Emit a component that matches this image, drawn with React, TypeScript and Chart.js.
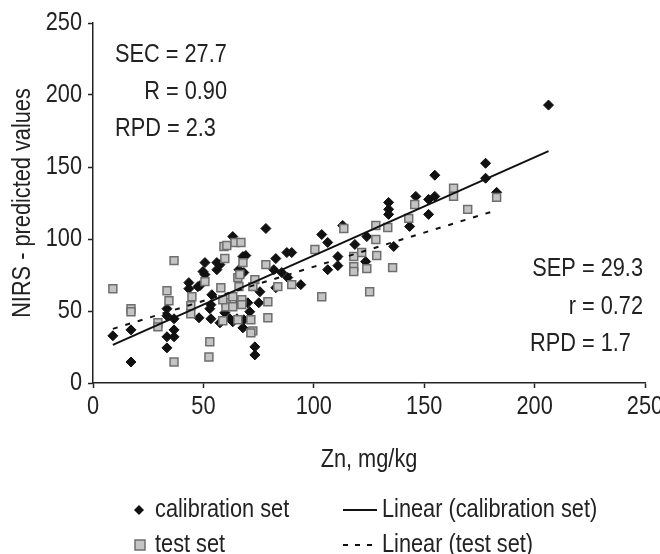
import React, { useEffect, useRef } from "react";
import { Chart, registerables } from "chart.js";

Chart.register(...registerables);

const FONT = "'Liberation Sans', Arial, sans-serif";
const FS = 25;
const SX = 0.87; // horizontal condensing of the typeface
const INK = "#222222";

const xTicks = [0, 50, 100, 150, 200, 250];
const yTicks = [0, 50, 100, 150, 200, 250];

const xTitle = "Zn, mg/kg";
const yTitle = "NIRS - predicted values";

const legendLabels = ["calibration set", "test set", "Linear (calibration set)", "Linear (test set)"];
const statsCalibration = ["SEC = 27.7", "R = 0.90", "RPD = 2.3"];
const statsTest = ["SEP = 29.3", "r = 0.72", "RPD = 1.7"];

// Zn (mg/kg) vs NIRS predicted, calibration set
const calibrationSet: [number, number][] = [
  [9.0, 32.8], [17.2, 36.9], [17.2, 14.6], [33.5, 51.6], [33.5, 46.7], [36.7, 44.6],
  [36.7, 36.9], [33.5, 32.1], [36.7, 32.1], [33.5, 24.4], [43.4, 69.7], [43.4, 65.5],
  [47.5, 66.9], [48.0, 45.3], [50.7, 83.6], [49.8, 77.4], [50.7, 75.3], [53.8, 61.3],
  [53.4, 54.4], [52.9, 51.6], [53.4, 44.6], [56.1, 83.6], [56.1, 78.7], [57.5, 82.2],
  [63.3, 101.7], [59.7, 48.8], [62.0, 44.6], [63.3, 42.5], [65.2, 44.6], [66.1, 78.7],
  [67.9, 87.8], [69.2, 88.5], [68.3, 76.7], [67.9, 38.3], [70.1, 55.7], [71.0, 49.5],
  [73.3, 25.1], [73.3, 19.5], [75.1, 55.7], [75.6, 63.4], [78.3, 107.3], [68.3, 43.9],
  [82.8, 86.4], [82.8, 66.2], [81.9, 78.7], [85.5, 76.7], [87.8, 90.6], [90.0, 90.6],
  [88.2, 73.2], [94.1, 68.3], [103.6, 103.1], [106.3, 97.6], [110.9, 87.8], [110.9, 81.5],
  [106.3, 78.7], [118.6, 96.2], [124.0, 101.7], [123.5, 84.3], [113.1, 109.4], [133.9, 125.4],
  [133.9, 120.6], [133.9, 117.1], [136.2, 94.8], [143.4, 108.7], [146.2, 129.6], [152.0, 127.5],
  [154.8, 129.6], [154.8, 144.3], [152.0, 117.1], [177.8, 152.6], [177.8, 142.2], [182.8, 132.4],
  [206.3, 193.0], [57.5, 41.8], [66.5, 55.7], [48.4, 67.6],
];

// test set
const testSet: [number, number][] = [
  [9.0, 65.5], [17.2, 51.6], [17.2, 49.5], [36.7, 85.0], [33.5, 64.1], [34.4, 57.1],
  [36.7, 14.6], [29.4, 41.8], [29.4, 39.0], [44.8, 59.9], [44.3, 53.7], [44.3, 48.1],
  [50.7, 70.4], [57.9, 66.2], [52.9, 28.6], [52.5, 18.1], [59.3, 94.8], [60.6, 95.5],
  [59.7, 86.4], [64.3, 97.6], [67.0, 97.6], [67.9, 83.6], [65.6, 73.2], [66.5, 75.3],
  [60.2, 55.7], [60.2, 53.0], [63.3, 59.9], [67.4, 57.8], [67.4, 54.4], [65.6, 43.9],
  [58.8, 43.2], [71.5, 43.9], [72.4, 36.2], [71.5, 34.8], [78.3, 82.2], [66.1, 66.9],
  [73.3, 71.8], [72.4, 66.9], [79.2, 56.4], [79.2, 45.3], [83.7, 66.9], [90.0, 68.3],
  [100.5, 92.7], [113.6, 107.3], [118.1, 87.8], [121.7, 90.6], [118.1, 80.8], [118.1, 77.4],
  [124.0, 79.4], [103.6, 59.9], [125.3, 63.4], [128.1, 109.4], [128.1, 99.7], [128.5, 88.5],
  [133.5, 108.0], [135.7, 80.1], [145.7, 124.0], [143.0, 114.3], [163.3, 135.2], [163.3, 129.6],
  [169.7, 120.6], [182.8, 128.9], [58.8, 57.8], [63.3, 53.0],
];

// trend lines (end points)
const calibrationFit: [number, number][] = [[9.0, 26.5], [206.3, 161.0]];
const testFit: [number, number][] = [[9.0, 37.6], [182.8, 120.0]];

const toXY = (arr: [number, number][]) => arr.map(([x, y]) => ({ x, y }));

function text(
  ctx: CanvasRenderingContext2D,
  s: string,
  x: number,
  y: number,
  align: CanvasTextAlign,
  rotate = false
) {
  ctx.save();
  ctx.translate(x, y);
  if (rotate) ctx.rotate(-Math.PI / 2);
  ctx.scale(SX, 1);
  ctx.textAlign = align;
  ctx.textBaseline = "middle";
  ctx.fillText(s, 0, 0);
  ctx.restore();
}

const overlayPlugin = {
  id: "overlay",
  afterDraw(chart: any) {
    const ctx: CanvasRenderingContext2D = chart.ctx;
    const xs = chart.scales.x;
    const ys = chart.scales.y;
    const area = chart.chartArea;
    ctx.save();
    ctx.font = `${FS}px ${FONT}`;
    ctx.fillStyle = INK;

    // tick labels
    xTicks.forEach((v) => text(ctx, String(v), xs.getPixelForValue(v), 407, "center"));
    yTicks.forEach((v) => text(ctx, String(v), 82, ys.getPixelForValue(v), "right"));

    // axis titles
    text(ctx, xTitle, (area.left + area.right) / 2, 460, "center");
    text(ctx, yTitle, 23, (area.top + area.bottom) / 2, "center", true);

    // statistics, calibration (top-left)
    text(ctx, statsCalibration[0], 115, 55, "left");
    text(ctx, statsCalibration[1], 227, 92, "right");
    text(ctx, statsCalibration[2], 115, 129, "left");

    // statistics, test (right)
    text(ctx, statsTest[0], 643, 269, "right");
    text(ctx, statsTest[1], 643, 307, "right");
    text(ctx, statsTest[2], 530, 344, "left");

    // legend
    const r1 = 510;
    const r2 = 545;
    ctx.fillStyle = "#111";
    ctx.beginPath();
    ctx.moveTo(139, r1 - 5);
    ctx.lineTo(144, r1);
    ctx.lineTo(139, r1 + 5);
    ctx.lineTo(134, r1);
    ctx.closePath();
    ctx.fill();
    ctx.fillStyle = "#c4c4c4";
    ctx.strokeStyle = "#6e6e6e";
    ctx.lineWidth = 1.5;
    ctx.fillRect(135, r2 - 5, 10, 10);
    ctx.strokeRect(135, r2 - 5, 10, 10);
    ctx.strokeStyle = "#111";
    ctx.lineWidth = 2;
    ctx.beginPath();
    ctx.moveTo(343, r1);
    ctx.lineTo(377, r1);
    ctx.stroke();
    ctx.setLineDash([5, 7]);
    ctx.beginPath();
    ctx.moveTo(343, r2);
    ctx.lineTo(377, r2);
    ctx.stroke();
    ctx.setLineDash([]);

    ctx.fillStyle = INK;
    text(ctx, legendLabels[0], 155, r1, "left");
    text(ctx, legendLabels[1], 155, r2, "left");
    text(ctx, legendLabels[2], 382, r1, "left");
    text(ctx, legendLabels[3], 382, r2, "left");
    ctx.restore();
  },
};

export default function App() {
  const ref = useRef<HTMLCanvasElement | null>(null);
  useEffect(() => {
    if (!ref.current) return;
    const axisCommon = {
      type: "linear",
      min: 0,
      max: 250,
      grid: { display: true, drawOnChartArea: false, drawTicks: true, tickLength: 5, color: INK, tickWidth: 1.5 },
      border: { display: true, color: INK, width: 1.5 },
      ticks: { display: false },
      title: { display: false },
    };
    const chart = new Chart(ref.current, {
      type: "scatter",
      data: {
        datasets: [
          {
            type: "line",
            label: legendLabels[2],
            data: toXY(calibrationFit),
            borderColor: "#111",
            borderWidth: 2,
            pointRadius: 0,
            fill: false,
            order: 0,
          } as any,
          {
            type: "line",
            label: legendLabels[3],
            data: toXY(testFit),
            borderColor: "#111",
            borderWidth: 2,
            borderDash: [5, 8],
            pointRadius: 0,
            fill: false,
            order: 0,
          } as any,
          {
            label: legendLabels[1],
            data: toXY(testSet),
            pointStyle: "rect",
            pointRadius: 5.6,
            backgroundColor: "#c4c4c4",
            borderColor: "#6e6e6e",
            borderWidth: 1.5,
            order: 1,
          },
          {
            label: legendLabels[0],
            data: toXY(calibrationSet),
            pointStyle: "rectRot",
            pointRadius: 5,
            backgroundColor: "#111",
            borderColor: "#111",
            borderWidth: 1,
            order: 2,
          },
        ],
      },
      options: {
        responsive: false,
        animation: false,
        events: [],
        layout: { padding: { top: 23, right: 15, bottom: 61, left: 0 } },
        plugins: { legend: { display: false }, tooltip: { enabled: false } },
        scales: {
          x: {
            ...axisCommon,
            afterBuildTicks: (s: any) => {
              s.ticks = xTicks.map((v) => ({ value: v }));
            },
            afterFit: (s: any) => {
              s.height = 110;
              s.paddingLeft = 0;
              s.paddingRight = 0;
            },
          } as any,
          y: {
            ...axisCommon,
            afterBuildTicks: (s: any) => {
              s.ticks = yTicks.map((v) => ({ value: v }));
            },
            afterFit: (s: any) => {
              s.width = 93;
              s.paddingTop = 0;
              s.paddingBottom = 0;
            },
          } as any,
        },
      },
      plugins: [overlayPlugin],
    });
    return () => chart.destroy();
  }, []);
  return (
    <div style={{ position: "fixed", left: 0, top: 0, width: 660, height: 554, background: "#fff" }}>
      <canvas ref={ref} width={660} height={554} style={{ display: "block", width: 660, height: 554 }} />
    </div>
  );
}
